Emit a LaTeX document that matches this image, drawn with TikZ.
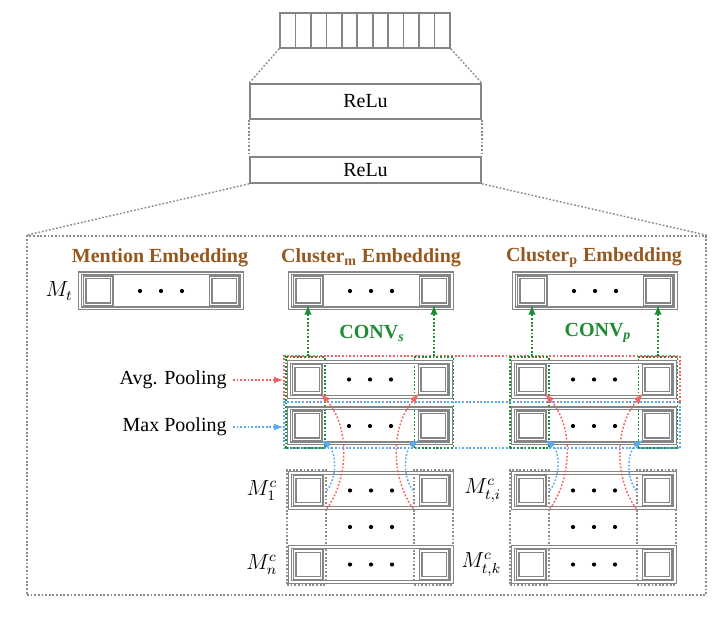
\documentclass[tikz,border=0pt]{standalone}
\usepackage{fontspec}
\setmainfont{Liberation Serif}
\usepackage{xcolor}
\usetikzlibrary{arrows}
\usetikzlibrary{positioning}

\definecolor{embbrown}{RGB}{150,88,30}
\definecolor{convgreen}{RGB}{30,140,50}
\definecolor{avgred}{RGB}{240,100,100}
\definecolor{maxblue}{RGB}{90,170,240}

% one embedding row: name, left x, centre y
\newcommand{\embrow}[3]{%
  \node[rowbox] (#1) at ({#2+81},#3) {};
  \node[cellbox] (#1-l) at ({#2+18},#3) {};
  \node[cellbox] (#1-r) at ({#2+144},#3) {};
  \foreach \k in {-21,0,21} \fill ({#2+81+\k},#3) circle (2.1);
}

\begin{document}
\begin{tikzpicture}[x=0.55pt,y=-0.55pt,
  font=\fontsize{11}{13}\selectfont,
  grayline/.style={draw=black!48,line width=0.9pt},
  rowbox/.style={grayline,line width=0.65pt,double=white,double distance=0.9pt,
    minimum width=162*0.55pt,minimum height=35*0.55pt,inner sep=0pt},
  cellbox/.style={grayline,line width=0.65pt,double=white,double distance=0.9pt,
    minimum size=27*0.55pt,inner sep=0pt},
  dotline/.style={dash pattern=on 1pt off 1pt,line width=0.8pt},
  graydot/.style={dotline,draw=black!45},
  title/.style={font=\fontsize{11}{13}\selectfont\bfseries,text=embbrown},
  convlbl/.style={font=\fontsize{11}{13}\selectfont\bfseries,text=convgreen},
  mathlbl/.style={font=\fontsize{12}{14}\selectfont,inner sep=1pt},
  redarr/.style={dotline,draw=avgred,-latex},
  bluearr/.style={dotline,draw=maxblue,-latex},
  greenarr/.style={dotline,draw=convgreen,-latex},
]
\useasboundingbox (0,0) rectangle (726,622);

% dense layers
\node[grayline,minimum width=170*0.55pt,minimum height=35*0.55pt] (vec) at (365,30.5) {};
\foreach \k in {1,...,10} \draw[grayline] ({280+\k*15.45},13) -- ({280+\k*15.45},48);
\node[grayline,minimum width=231*0.55pt,minimum height=35*0.55pt] (relu1) at (365.5,101.5) {ReLu};
\node[grayline,minimum width=231*0.55pt,minimum height=26*0.55pt] (relu2) at (365.5,170) {ReLu};
\node[graydot,minimum width=679*0.55pt,minimum height=359*0.55pt] (panel) at (366.5,415.5) {};

\draw[graydot] (vec.south west) -- (relu1.north west);
\draw[graydot] (vec.south east) -- (relu1.north east);
\draw[graydot] (relu1.south west) -- (relu2.north west);
\draw[graydot] (relu1.south east) -- (relu2.north east);
\draw[graydot] (relu2.south west) -- (panel.north west);
\draw[graydot] (relu2.south east) -- (panel.north east);

% titles
\node[title] (tmen) at (160,258) {Mention Embedding};
\node[title] (tclm) at (371,258) {Cluster\textsubscript{m} Embedding};
\node[title] (tclp) at (594,258) {Cluster\textsubscript{p} Embedding};

% pooling boxes
\node[dotline,draw=avgred,minimum width=396*0.55pt,minimum height=46*0.55pt] (avgbox) at (482,379) {};
\node[dotline,draw=maxblue,minimum width=396*0.55pt,minimum height=46*0.55pt] (maxbox) at (482,425) {};
\node[dotline,draw=convgreen,minimum width=39*0.55pt,minimum height=91*0.55pt] (grnml) at (305.5,402.5) {};
\node[dotline,draw=convgreen,minimum width=39*0.55pt,minimum height=91*0.55pt] (grnmr) at (434,402.5) {};
\node[dotline,draw=convgreen,minimum width=39*0.55pt,minimum height=91*0.55pt] (grnpl) at (529.5,402.5) {};
\node[dotline,draw=convgreen,minimum width=39*0.55pt,minimum height=91*0.55pt] (grnpr) at (658,402.5) {};

% columns of the clusters
\node[graydot,minimum width=39*0.55pt,minimum height=115*0.55pt] (colml) at (306.5,527.5) {};
\node[graydot,minimum width=39*0.55pt,minimum height=115*0.55pt] (colmr) at (433.5,527.5) {};
\node[graydot,minimum width=39*0.55pt,minimum height=115*0.55pt] (colpl) at (529.5,527.5) {};
\node[graydot,minimum width=39*0.55pt,minimum height=115*0.55pt] (colpr) at (656.5,527.5) {};

% rows
\embrow{mt}{80}{291}
\embrow{clm}{290}{291}
\embrow{clp}{514}{291}
\embrow{avgm}{289}{379.5}
\embrow{maxm}{289}{426}
\embrow{avgp}{513}{379.5}
\embrow{maxp}{513}{426}
\embrow{firstm}{290}{490.5}
\embrow{lastm}{290}{564.5}
\embrow{firstp}{513}{490.5}
\embrow{lastp}{513}{564.5}
\foreach \k in {-21,0,21} {
  \fill ({371+\k},527) circle (2.1);
  \fill ({594+\k},527) circle (2.1);
}

% labels
\node[mathlbl,left=2.5pt of mt] (lmt) {$M_t$};
\node[mathlbl,left=5.5pt of firstm] (lm1) {$M^c_1$};
\node[mathlbl,left=5.5pt of lastm] (lmn) {$M^c_n$};
\node[mathlbl,left=5pt of firstp] (lti) {$M^c_{t,i}$};
\node[mathlbl,left=5pt of lastp] (ltk) {$M^c_{t,k}$};
\node[convlbl] (convs) at (372,333) {CONV\textsubscript{\textit{s}}};
\node[convlbl] (convp) at (598,333) {CONV\textsubscript{\textit{p}}};

\node[anchor=east] (avglbl) at (233,380) {Avg. Pooling};
\node[anchor=east] (maxlbl) at (233,427) {Max Pooling};
\draw[redarr] (avglbl.east) -- (avgbox.west |- avglbl.east);
\draw[bluearr] (maxlbl.east) -- (maxbox.west |- maxlbl.east);

% convolution
\draw[greenarr] (clm-l.south |- grnml.north) -- (clm-l.south);
\draw[greenarr] (clm-r.south |- grnmr.north) -- (clm-r.south);
\draw[greenarr] (clp-l.south |- grnpl.north) -- (clp-l.south);
\draw[greenarr] (clp-r.south |- grnpr.north) -- (clp-r.south);

% pooling
\foreach \g in {m,p} {
  \draw[redarr] (col\g l.east |- first\g.south) .. controls +(20,-26) and +(31,36) .. (avg\g-l.south east);
  \draw[bluearr] (col\g l.east |- first\g.center) .. controls +(11,-13) and +(15,10) .. (max\g-l.south east);
  \draw[redarr] (col\g r.west |- first\g.south) .. controls +(-20,-26) and +(-31,36) .. (avg\g-r.south west);
  \draw[bluearr] (col\g r.west |- first\g.center) .. controls +(-11,-13) and +(-15,10) .. (max\g-r.south west);
}
\end{tikzpicture}
\end{document}
